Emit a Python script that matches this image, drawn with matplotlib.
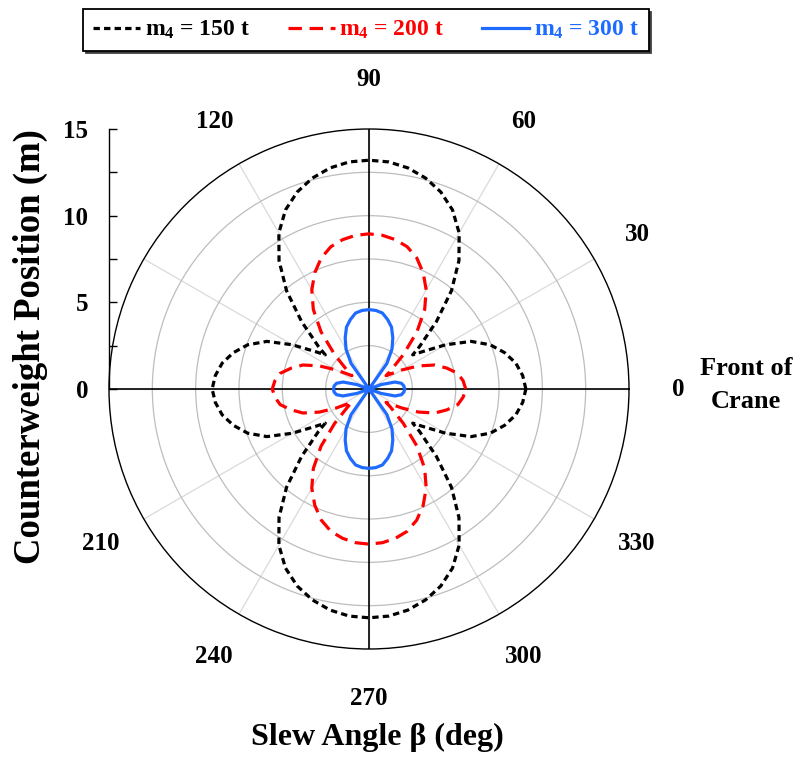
import numpy as np
import matplotlib
matplotlib.use("Agg")
import matplotlib.pyplot as plt

plt.rcParams['font.family'] = ['Liberation Serif', 'DejaVu Serif']
plt.rcParams['font.weight'] = 'bold'
plt.rcParams['mathtext.fontset'] = 'custom'
plt.rcParams['mathtext.bf'] = 'Liberation Serif:bold'
plt.rcParams['mathtext.rm'] = 'Liberation Serif:bold'
plt.rcParams['mathtext.it'] = 'Liberation Serif:bold'

# slew angle (deg) for the first quadrant; the curves are symmetric about both axes
quad_deg = [0, 5, 10, 15, 20, 25, 30, 35, 38, 40, 45, 50, 55, 60, 65, 70, 75, 80, 85, 90]

# counterweight position (m)
cw_150 = [9.05, 8.9, 8.6, 8.1, 7.45, 6.5, 5.1, 3.75, 3.2, 3.8, 5.5, 7.4, 9.05, 10.4,
          11.4, 12.1, 12.6, 12.95, 13.15, 13.2]
cw_200 = [5.58, 5.45, 5.2, 4.65, 4.05, 3.15, 2.2, 1.5, 1.25, 1.6, 2.8, 4.3, 5.6, 6.6,
          7.4, 8.05, 8.5, 8.75, 8.9, 8.95]
cw_300 = [2.05, 2.02, 1.9, 1.55, 0.75, 0.0, 0.0, 0.0, 0.0, 0.0, 0.0, 0.0, 1.8, 2.65,
          3.25, 3.8, 4.15, 4.45, 4.55, 4.58]

labels = [r'$\mathbf{m_4}$ = 150 t', r'$\mathbf{m_4}$ = 200 t', r'$\mathbf{m_4}$ = 300 t']
colors = ['black', '#ff0000', '#1f6bff']
label_angles = [0, 30, 60, 90, 120, 210, 240, 270, 300, 330]


def full_circle(vals):
    # mirror the quadrant into the other three
    q = np.array(quad_deg, dtype=float)
    v = np.array(vals, dtype=float)
    th = np.concatenate([q, 180 - q[::-1], 180 + q, 360 - q[::-1]])
    r = np.concatenate([v, v[::-1], v, v[::-1]])
    return np.deg2rad(th), r


W, H = 797, 757
fig = plt.figure(figsize=(W / 100, H / 100), dpi=100)

cx, cy, R = 369, 389, 260
ax = fig.add_axes([(cx - R) / W, (H - cy - R) / H, 2 * R / W, 2 * R / H], projection='polar')
ax.set_ylim(0, 15)
ax.set_yticks([2.5, 5, 7.5, 10, 12.5])
ax.set_yticklabels([])
ax.set_xticks(np.deg2rad(np.arange(0, 360, 30)))
ax.set_xticklabels([])
ax.yaxis.grid(True, color='#bdbdbd', lw=0.9)
ax.xaxis.grid(True, color='#dadada', lw=0.9)
ax.spines['polar'].set_color('black')
ax.spines['polar'].set_linewidth(1.0)
for a in [0, 90, 180, 270]:
    ax.axvline(np.deg2rad(a), color='black', lw=1.2, zorder=2)

th, r = full_circle(cw_150)
l1, = ax.plot(th, r, color=colors[0], lw=2.3, dashes=(2.0, 1.3), zorder=3)
th, r = full_circle(cw_200)
l2, = ax.plot(th, r, color=colors[1], lw=2.3, dashes=(4.2, 2.4), zorder=3)
th, r = full_circle(cw_300)
l3, = ax.plot(th, r, color=colors[2], lw=2.3, zorder=4)

for a in label_angles:
    ax.text(np.deg2rad(a), 17.85, str(a), ha='center', va='center', fontsize=18,
            fontweight='bold', clip_on=False)

# radial scale on the left
ax2 = fig.add_axes([(cx - R) / W, (H - cy) / H, 0.01, R / H])
ax2.set_facecolor('none')
for s in ['top', 'right', 'bottom']:
    ax2.spines[s].set_visible(False)
ax2.spines['left'].set_linewidth(1.0)
ax2.set_ylim(0, 15)
ax2.set_xticks([])
ax2.set_yticks([0, 5, 10, 15])
ax2.set_yticks([2.5, 7.5, 12.5], minor=True)
ax2.tick_params(axis='y', which='both', direction='in', length=6, width=1.0, pad=15,
                labelsize=18)

fig.text(30 / W, 1 - 347 / H, 'Counterweight Position (m)', rotation=90, ha='center',
         va='center', fontsize=26.5, fontweight='bold')
fig.text(377 / W, 1 - 737 / H, 'Slew Angle β (deg)', ha='center', va='center',
         fontsize=23, fontweight='bold')
fig.text(746 / W, 1 - 385 / H, 'Front of\nCrane', ha='center', va='center', fontsize=19,
         fontweight='bold', linespacing=1.55)

leg = ax.legend([l1, l2, l3], labels, loc='center', bbox_to_anchor=(366 / W, 1 - 30 / H),
                bbox_transform=fig.transFigure, ncol=3, frameon=True, fancybox=False,
                shadow={'color': '0.25', 'alpha': 1.0}, edgecolor='black', fontsize=17,
                handlelength=2.0, handletextpad=0.2, columnspacing=1.6, borderpad=0.4)
leg.get_frame().set_linewidth(1.3)
for t, c in zip(leg.get_texts(), colors):
    t.set_color(c)

fig.savefig('out.png', dpi=100)
